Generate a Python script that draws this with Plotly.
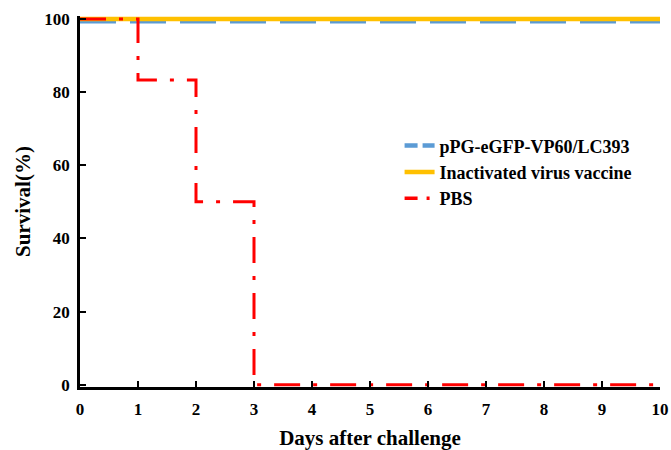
import plotly.graph_objects as go

days = [0, 1, 2, 3, 4, 5, 6, 7, 8, 9, 10]
vp60 = [99.3] * 11
inactivated = [100] * 11
pbs = [100, 83.3, 50, 0, 0, 0, 0, 0, 0, 0, 0]
names = ["pPG-eGFP-VP60/LC393", "Inactivated virus vaccine", "PBS"]
y_ticks = [0, 20, 40, 60, 80, 100]

font = "Liberation Serif, Times New Roman, serif"
colors = ["#5B9BD5", "#FFC000", "#FF0000"]

fig = go.Figure()
fig.add_trace(go.Scatter(x=days, y=vp60, name=names[0], mode="lines", showlegend=False,
                         line=dict(color=colors[0], width=4, dash="36px,14px")))
fig.add_trace(go.Scatter(x=days, y=inactivated, name=names[1], mode="lines", showlegend=False,
                         line=dict(color=colors[1], width=4.5)))
fig.add_trace(go.Scatter(x=days, y=pbs, name=names[2], mode="lines", line_shape="hv",
                         showlegend=False,
                         line=dict(color=colors[2], width=3, dash="26px,13px,4px,13px")))

# legend entries (shorter dash patterns to suit the legend sample length)
legend_dash = ["13px,5px", "solid", "13px,9px,3px,9px"]
legend_width = [4.5, 4.5, 3.5]
for n, c, d, w in zip(names, colors, legend_dash, legend_width):
    fig.add_trace(go.Scatter(x=[None], y=[None], name=n, mode="lines",
                             line=dict(color=c, width=w, dash=d)))

fig.update_layout(
    width=671, height=450,
    margin=dict(l=80, r=11, t=16, b=63),
    plot_bgcolor="white", paper_bgcolor="white",
    font=dict(family=font, size=17, color="black"),
    legend=dict(x=0.551, y=0.70, xanchor="left", yanchor="top",
                font=dict(family=font, size=18, color="black", weight="bold"),
                bgcolor="rgba(0,0,0,0)", tracegroupgap=0),
    showlegend=True,
)
fig.update_xaxes(range=[0, 10], tickvals=days, ticks="inside", ticklen=6, tickwidth=2,
                 tickcolor="black", showline=True, linecolor="black", linewidth=2.5,
                 showgrid=False, zeroline=False, automargin=False,
                 ticklabelstandoff=5,
                 tickfont=dict(family=font, size=17, weight="bold"),
                 title=dict(text="Days after challenge", standoff=21,
                            font=dict(family=font, size=21, weight="bold")))
fig.update_yaxes(range=[-0.6, 100.8], tickvals=y_ticks, ticks="inside",
                 ticklen=6, tickwidth=2, tickcolor="black", showline=True,
                 linecolor="black", linewidth=2.5, showgrid=False, zeroline=False,
                 automargin=False, ticklabelstandoff=4,
                 tickfont=dict(family=font, size=17, weight="bold"),
                 title=dict(text="Survival(%)", standoff=8,
                            font=dict(family=font, size=21, weight="bold")))

fig.write_html("out.html", config={"displayModeBar": False},
               post_script="document.body.style.margin='0';")
